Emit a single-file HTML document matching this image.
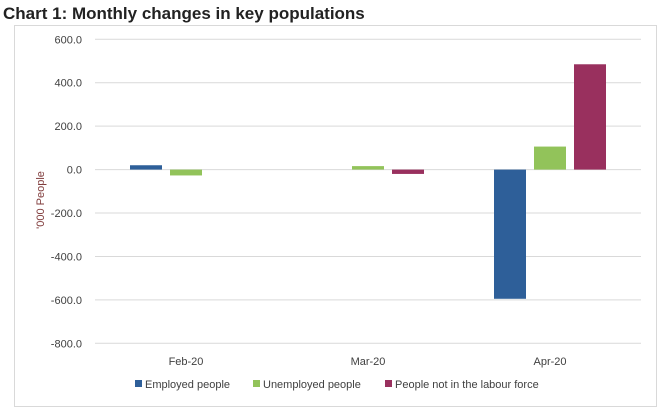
<!DOCTYPE html>
<html><head><style>
body{margin:0;background:#fff;}
svg{display:block;font-family:"Liberation Sans",Arial,sans-serif;}
</style></head><body>
<svg width="660" height="412">
<text x="3" y="19" font-size="17" font-weight="bold" fill="#222">Chart 1: Monthly changes in key populations</text>
<rect x="14.5" y="25.5" width="642" height="381" fill="none" stroke="#d9d9d9"/>
<g id="grid"></g><g id="bars"></g><g id="labels"></g>
<text transform="translate(44,200) rotate(-90)" text-anchor="middle" font-size="11" fill="#7f3a3a">'000 People</text>
<g font-size="11" fill="#404040">
<rect x="135" y="380" width="7" height="7" fill="#2e5f99"/>
<text x="145" y="388">Employed people</text>
<rect x="253" y="380" width="7" height="7" fill="#92c35a"/>
<text x="263" y="388">Unemployed people</text>
<rect x="385" y="380" width="7" height="7" fill="#99305e"/>
<text x="395" y="388">People not in the labour force</text>
</g>
</svg>
<script>
const categories=["Feb-20","Mar-20","Apr-20"];
const employed=[20,0,-595];
const unemployed=[-27,16,106];
const notInLF=[0,-20,485];
const ticks=[600,400,200,0,-200,-400,-600,-800];
const ns="http://www.w3.org/2000/svg";
const L=95,R=641,T=39.3,B=343.3,ymax=600,ymin=-800;
const y=v=>T+(ymax-v)/(ymax-ymin)*(B-T);
const bw=(R-L)/categories.length;
const xc=i=>L+bw*(i+0.5);
function mk(t,a,p){const e=document.createElementNS(ns,t);for(const k in a)e.setAttribute(k,a[k]);p.appendChild(e);return e;}
const grid=document.getElementById('grid'),bars=document.getElementById('bars'),lab=document.getElementById('labels');
ticks.forEach(t=>{
 const l=mk('line',{x1:L,x2:R,y1:y(t),y2:y(t),stroke:'#d9d9d9','stroke-width':1},grid);
 
 
 const tx=mk('text',{x:82,y:y(t)+4,'text-anchor':'end','font-size':'11',fill:'#404040'},lab);
 tx.textContent=t.toFixed(1);
 
 
});
const series=[[employed,'#2e5f99','employed'],[unemployed,'#92c35a','unemployed'],[notInLF,'#99305e','nilf']];
categories.forEach((c,i)=>{
 series.forEach((s,j)=>{
  const v=s[0][i];
  const x=xc(i)-56+j*40;
  const r=mk('rect',{x:x,y:Math.min(y(v),y(0)),width:32,height:Math.abs(y(v)-y(0)),fill:s[1]},bars);
  
  
 });
 const tx=mk('text',{x:xc(i),y:365,'text-anchor':'middle','font-size':'11',fill:'#404040'},lab);
 tx.textContent=c;
 
 
});
</script>
</body></html>
